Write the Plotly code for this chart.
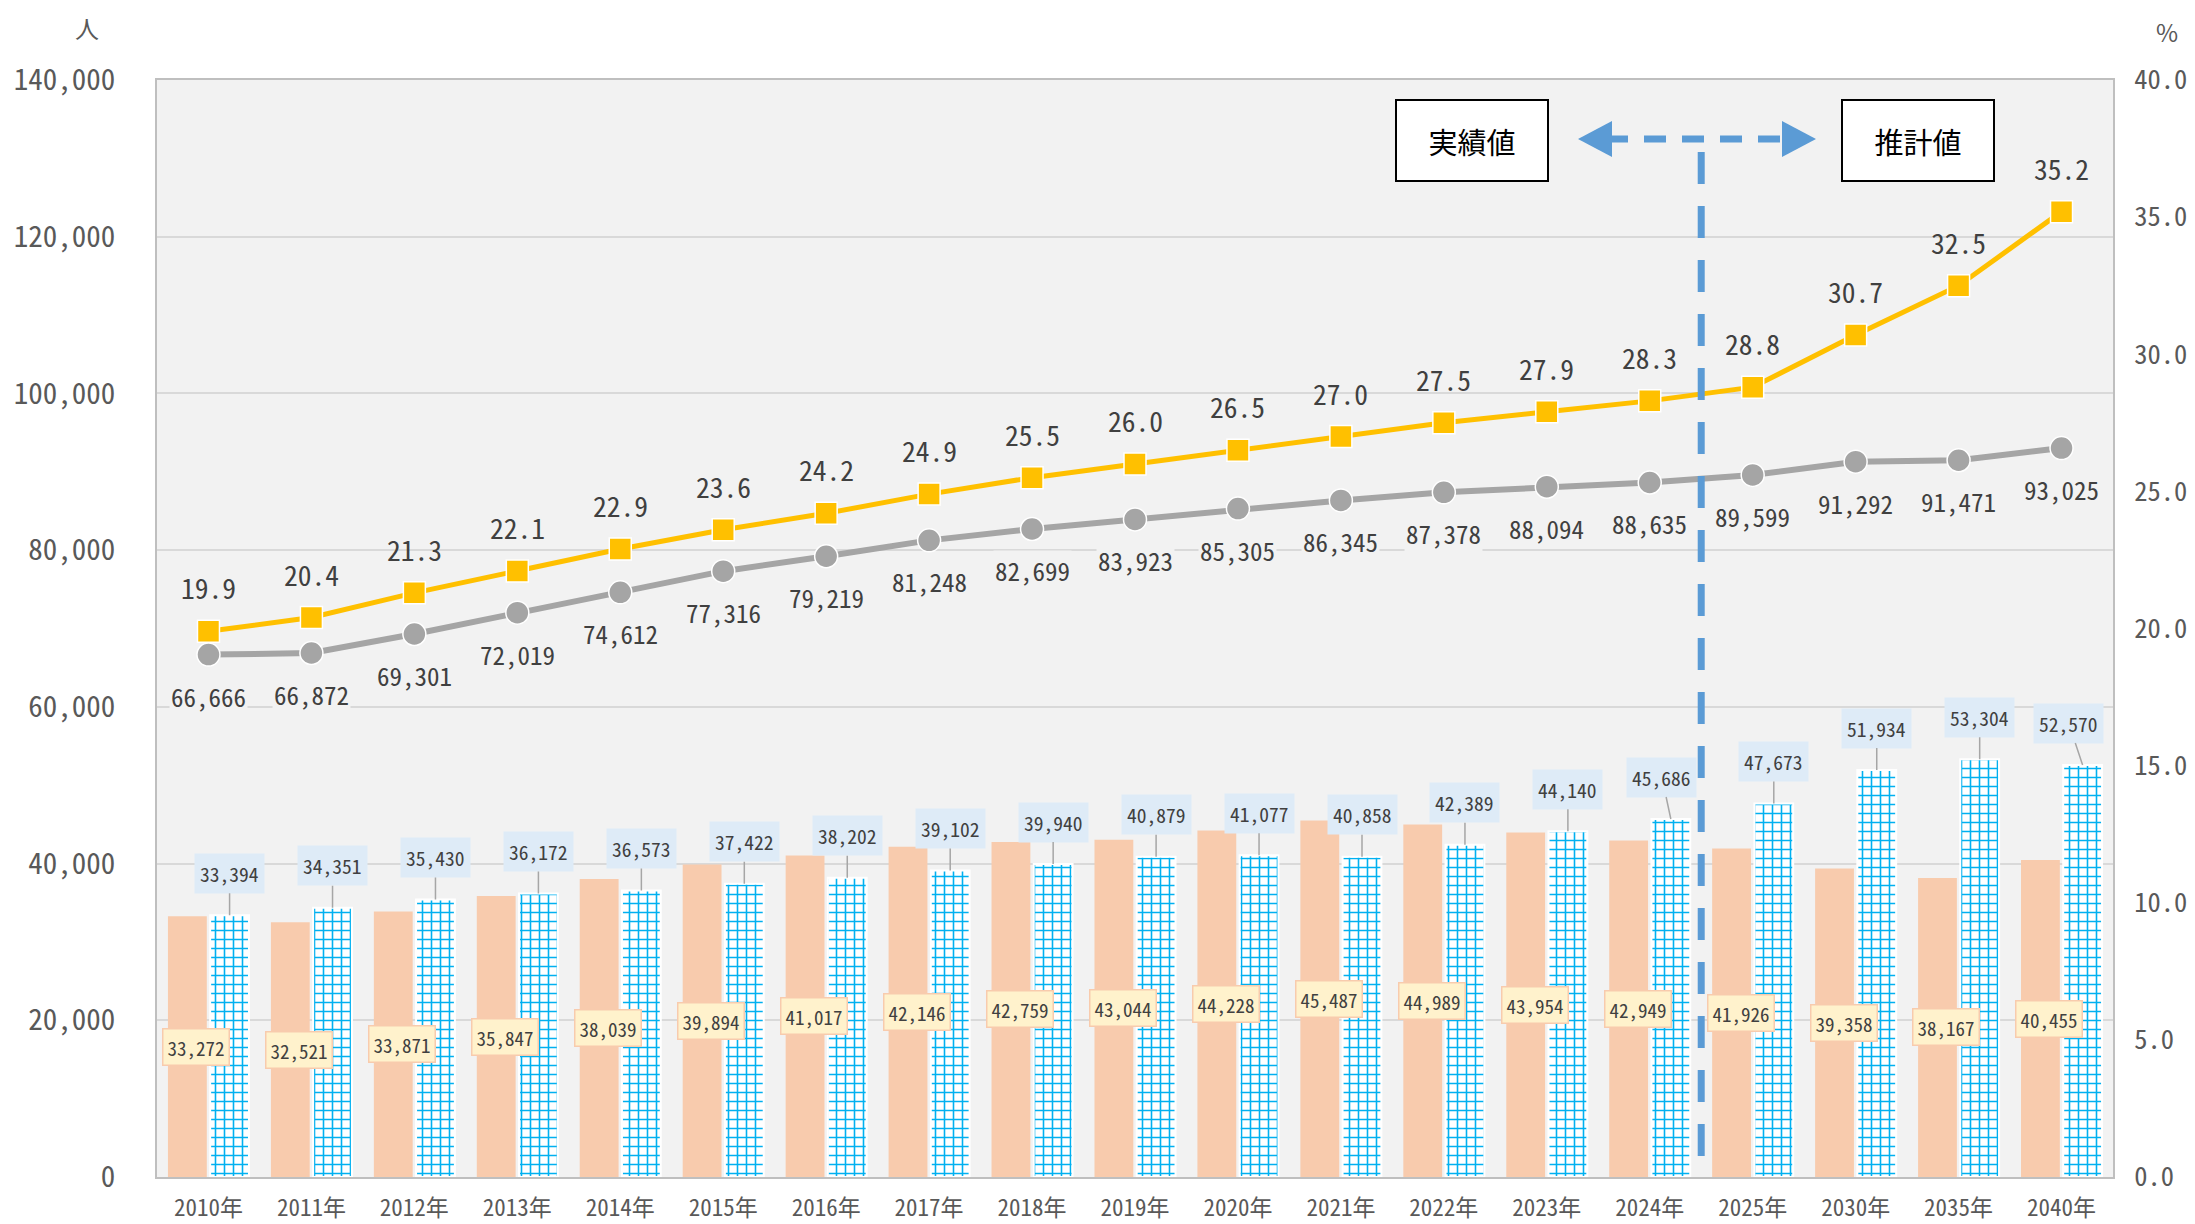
import plotly.graph_objects as go

categories = ["2010年", "2011年", "2012年", "2013年", "2014年", "2015年", "2016年",
              "2017年", "2018年", "2019年", "2020年", "2021年", "2022年", "2023年",
              "2024年", "2025年", "2030年", "2035年", "2040年"]
bar_orange = [33272, 32521, 33871, 35847, 38039, 39894, 41017, 42146, 42759, 43044,
              44228, 45487, 44989, 43954, 42949, 41926, 39358, 38167, 40455]
bar_blue = [33394, 34351, 35430, 36172, 36573, 37422, 38202, 39102, 39940, 40879,
            41077, 40858, 42389, 44140, 45686, 47673, 51934, 53304, 52570]
line_gray = [66666, 66872, 69301, 72019, 74612, 77316, 79219, 81248, 82699, 83923,
             85305, 86345, 87378, 88094, 88635, 89599, 91292, 91471, 93025]
line_pct = [19.9, 20.4, 21.3, 22.1, 22.9, 23.6, 24.2, 24.9, 25.5, 26.0,
            26.5, 27.0, 27.5, 27.9, 28.3, 28.8, 30.7, 32.5, 35.2]
left_ticks = [0, 20000, 40000, 60000, 80000, 100000, 120000, 140000]
right_ticks = [0, 5, 10, 15, 20, 25, 30, 35, 40]
label_actual = "実績値"
label_forecast = "推計値"
unit_left = "人"
unit_right = "%"

FONT = "Noto Sans Mono CJK JP, Noto Sans CJK JP, DejaVu Sans Mono, sans-serif"
CJK = "Noto Sans CJK JP, sans-serif"
TXT = "#404040"
TICK = "#595959"

W, H = 2195, 1224
OFF = 8.0  # page body margin: screenshot pixel = figure pixel + 8

def fx(px):
    return px - OFF

def fy(py):
    return py - OFF

# plot area in target screenshot pixels
L = round(fx(157))
R = round(W - fx(2113))
T = round(fy(80))
B = round(H - fy(1177))
pw, ph = W - L - R, H - T - B

def sx(px):  # screenshot x -> paper
    return (fx(px) - L) / pw

def sy(py):  # screenshot y -> paper
    return (H - B - fy(py)) / ph

BARGAP = 0.18
fig = go.Figure()

fig.add_trace(go.Bar(
    x=categories, y=bar_orange, name="orange",
    marker=dict(color="#F8CBAD", line=dict(width=0)),
    hoverinfo="skip",
))
fig.add_trace(go.Bar(
    x=categories, y=bar_blue, name="blue",
    marker=dict(color="white", line=dict(color="white", width=2),
                pattern=dict(shape="+", fgcolor="#00B0F0", bgcolor="white",
                             size=9, solidity=0.32, fillmode="replace")),
    hoverinfo="skip",
))
fig.add_trace(go.Scatter(
    x=categories, y=line_gray, mode="lines+markers", name="gray",
    line=dict(color="#A5A5A5", width=6),
    marker=dict(symbol="circle", size=23, color="#A5A5A5", line=dict(color="white", width=1.5)),
    hoverinfo="skip",
))
fig.add_trace(go.Scatter(
    x=categories, y=line_pct, mode="lines+markers", name="pct", yaxis="y2",
    line=dict(color="#FFC000", width=5),
    marker=dict(symbol="square", size=22, color="#FFC000", line=dict(color="white", width=1.5)),
    hoverinfo="skip",
))

annotations = []
half = (1 - BARGAP) / 4
for i, c in enumerate(categories):
    annotations.append(dict(
        x=i - half, y=bar_orange[i] / 2, xref="x", yref="y",
        text=f"{bar_orange[i]:,}", showarrow=False, xshift=9,
        font=dict(family=FONT, size=19, color=TXT),
        bgcolor="#FFF2CC", bordercolor="#F8CBAD", borderwidth=1.5, borderpad=4,
    ))
    ax = 0
    if c == "2024年":
        ax = -9
    if c == "2040年":
        ax = -14
    annotations.append(dict(
        x=i + half, y=bar_blue[i], xref="x", yref="y",
        text=f"{bar_blue[i]:,}", showarrow=True, arrowhead=0, arrowwidth=1.5,
        arrowcolor="#A6A6A6", ax=ax, ay=-42, standoff=0, startstandoff=0,
        font=dict(family=FONT, size=19.5, color=TXT),
        bgcolor="#DEEBF7", borderpad=5,
    ))
    annotations.append(dict(
        x=i, y=line_gray[i], xref="x", yref="y",
        text=f"{line_gray[i]:,}", showarrow=False, yshift=-41,
        font=dict(family=FONT, size=25, color=TXT), bgcolor="#F2F2F2",
    ))
    annotations.append(dict(
        x=i, y=line_pct[i], xref="x", yref="y2",
        text=f"{line_pct[i]:.1f}", showarrow=False, yshift=44,
        font=dict(family=FONT, size=27.5, color=TXT),
    ))

for txt, cx in [(label_actual, 1472), (label_forecast, 1918)]:
    annotations.append(dict(
        x=sx(cx), y=sy(141), xref="paper", yref="paper", text=txt, showarrow=False,
        font=dict(family=CJK, size=29, color="black"),
        bgcolor="white", bordercolor="black", borderwidth=2,
        width=148, height=77, xanchor="center", yanchor="middle",
    ))
for txt, px, py in [(unit_left, 87, 27), (unit_right, 2167, 31)]:
    annotations.append(dict(
        x=sx(px), y=sy(py), xref="paper", yref="paper", text=txt, showarrow=False,
        font=dict(family=CJK, size=24, color=TICK), xanchor="center", yanchor="middle",
    ))

BLUE = "#5B9BD5"
shapes = []
shapes.append(dict(type="line", xref="x", yref="paper", x0=14.5, x1=14.5,
                   y0=sy(152), y1=0,
                   line=dict(color=BLUE, width=7, dash="32px,22px")))
ay_ = sy(139)
shapes.append(dict(type="line", xref="paper", yref="paper",
                   x0=sx(1606), x1=sx(1790), y0=ay_, y1=ay_,
                   line=dict(color=BLUE, width=7, dash="22px,16px")))
hh = 18 / ph
lt, lb = sx(1578), sx(1612)
rt, rb = sx(1816), sx(1782)
shapes.append(dict(type="path", xref="paper", yref="paper",
                   path=f"M {lt} {ay_} L {lb} {ay_ + hh} L {lb} {ay_ - hh} Z",
                   fillcolor=BLUE, line=dict(width=0)))
shapes.append(dict(type="path", xref="paper", yref="paper",
                   path=f"M {rt} {ay_} L {rb} {ay_ + hh} L {rb} {ay_ - hh} Z",
                   fillcolor=BLUE, line=dict(width=0)))

fig.update_layout(
    width=W, height=H,
    margin=dict(l=L, r=R, t=T, b=B, autoexpand=False),
    paper_bgcolor="white", plot_bgcolor="#F2F2F2",
    barmode="group", bargap=BARGAP, bargroupgap=0.08,
    showlegend=False,
    annotations=annotations, shapes=shapes,
    xaxis=dict(type="category", range=[-0.5, len(categories) - 0.5], automargin=False,
               showgrid=False, showline=True, linecolor="#BFBFBF",
               linewidth=2, mirror=True, ticks="", ticklabelstandoff=9,
               tickfont=dict(family=FONT, size=23, color=TICK)),
    yaxis=dict(range=[0, 140000], tickvals=left_ticks, tickformat=",", automargin=False,
               showgrid=True, gridcolor="#D9D9D9", gridwidth=2, zeroline=False,
               showline=True, linecolor="#BFBFBF", linewidth=2,
               ticks="", ticklabelstandoff=34,
               tickfont=dict(family=FONT, size=29, color=TICK)),
    yaxis2=dict(range=[0, 40], tickvals=right_ticks, tickformat=".1f", automargin=False,
                overlaying="y", side="right", showgrid=False, zeroline=False,
                showline=True, linecolor="#BFBFBF", linewidth=2,
                ticks="", ticklabelstandoff=14,
                tickfont=dict(family=FONT, size=26.5, color=TICK)),
)

fig.write_html("out.html")
